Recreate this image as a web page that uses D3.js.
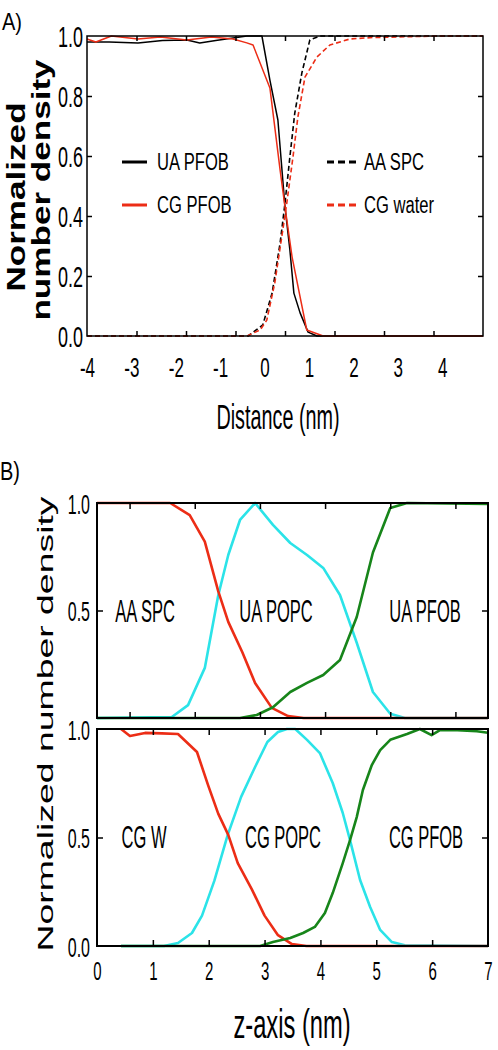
<!DOCTYPE html>
<html><head><meta charset="utf-8">
<script src="https://cdn.jsdelivr.net/npm/d3@7"></script>
<style>body{margin:0;background:#fff}svg{display:block}</style>
</head><body>
<svg id="c" width="498" height="1050"></svg>
<script>
// ---------- Panel A data (Distance nm, normalized density) ----------
const aTicksX = [-4, -3, -2, -1, 0, 1, 2, 3, 4];
const aTicksY = [0, 0.2, 0.4, 0.6, 0.8, 1.0];
const uaPfobX = [-4, -3.5, -2.85, -2.3, -1.75, -1.46, -1.1, -0.71, -0.4, -0.06, 0.12, 0.30, 0.46, 0.57, 0.66, 0.80, 0.98, 1.18, 4.92];
const uaPfobY = [0.98, 0.98, 0.977, 0.985, 0.987, 0.977, 0.985, 0.993, 1.0, 1.0, 0.853, 0.72, 0.43, 0.287, 0.143, 0.077, 0.013, 0, 0];
const cgPfobX = [-4, -3.8, -3.45, -2.85, -2.35, -1.75, -1.2, -0.71, -0.4, -0.26, 0.12, 0.35, 0.46, 0.62, 0.95, 1.32, 4.92];
const cgPfobY = [0.99, 0.98, 1.0, 0.99, 0.997, 0.987, 0.997, 0.99, 0.977, 0.97, 0.827, 0.553, 0.43, 0.263, 0.02, 0, 0];
const aaSpcX = [-4, -0.37, -0.04, 0.17, 0.35, 0.46, 0.57, 0.68, 0.84, 1.02, 1.25, 4.92];
const aaSpcY = [0, 0, 0.037, 0.143, 0.31, 0.443, 0.597, 0.743, 0.877, 0.987, 1.0, 1.0];
const cgWaterX = [-4, -0.40, -0.1, 0.05, 0.23, 0.41, 0.50, 0.64, 0.75, 0.91, 1.18, 1.47, 1.92, 2.44, 3.95, 4.92];
const cgWaterY = [0, 0, 0.02, 0.053, 0.177, 0.353, 0.443, 0.597, 0.73, 0.863, 0.93, 0.97, 0.99, 0.995, 1.0, 1.0];

// ---------- Panel B data (z-axis nm) ----------
const bTicksX = [0, 1, 2, 3, 4, 5, 6, 7];
const bTicksYUpper = [0.5, 1.0];
const bTicksYLower = [0, 0.5, 1.0];
// upper: AA SPC / UA POPC / UA PFOB
const uSpcX = [0, 1.31, 1.66, 1.93, 2.17, 2.35, 2.60, 2.83, 3.13, 3.42, 3.7, 7];
const uSpcY = [1, 1, 0.944, 0.82, 0.59, 0.447, 0.307, 0.163, 0.047, 0.009, 0, 0];
const uPopcX = [0, 1.34, 1.63, 1.93, 2.17, 2.35, 2.56, 2.83, 3.15, 3.46, 3.76, 4.05, 4.35, 4.65, 4.94, 5.25, 5.51, 7];
const uPopcY = [0, 0.005, 0.06, 0.233, 0.57, 0.758, 0.921, 1.0, 0.898, 0.814, 0.758, 0.698, 0.572, 0.35, 0.121, 0.02, 0, 0];
const uPfobX = [0, 2.56, 2.86, 3.15, 3.46, 3.76, 4.05, 4.35, 4.65, 4.94, 5.25, 5.55, 7];
const uPfobY = [0, 0, 0.014, 0.05, 0.121, 0.163, 0.2, 0.27, 0.47, 0.77, 0.977, 1.0, 0.995];
// lower: CG W / CG POPC / CG PFOB
const lWX = [0.43, 0.59, 0.86, 1.16, 1.45, 1.79, 1.99, 2.17, 2.35, 2.52, 2.77, 3.0, 3.24, 3.49, 3.75, 7];
const lWY = [1.0, 0.968, 0.982, 0.98, 0.977, 0.894, 0.74, 0.61, 0.512, 0.382, 0.262, 0.14, 0.05, 0.009, 0, 0];
const lPopcX = [0.43, 1.2, 1.45, 1.70, 1.88, 2.1, 2.34, 2.58, 2.83, 3.05, 3.24, 3.4, 3.55, 3.76, 3.99, 4.22, 4.4, 4.53, 4.71, 4.89, 5.07, 5.28, 5.51, 7];
const lPopcY = [0, 0, 0.014, 0.06, 0.14, 0.3, 0.512, 0.687, 0.825, 0.94, 0.986, 1.0, 1.0, 0.95, 0.889, 0.751, 0.613, 0.488, 0.304, 0.18, 0.074, 0.018, 0.003, 0];
const lPfobX = [0.43, 2.92, 3.15, 3.46, 3.69, 3.9, 4.08, 4.22, 4.4, 4.53, 4.65, 4.76, 4.92, 5.07, 5.25, 5.55, 5.78, 5.99, 6.14, 6.45, 6.8, 7];
const lPfobY = [0, 0, 0.018, 0.037, 0.06, 0.088, 0.152, 0.244, 0.382, 0.488, 0.594, 0.719, 0.834, 0.903, 0.95, 0.977, 1.0, 0.972, 0.995, 0.995, 0.99, 0.983];

const FONT = "'Liberation Sans', Arial, Helvetica, sans-serif";
const RED = "#ec2d16", CYAN = "#2be3e8", GREEN = "#17851a";
const svg = d3.select("#c");

function stext(x, y, str, o) {
  return svg.append("text")
    .attr("transform", `translate(${x},${y}) scale(1,${o.k})` + (o.rot ? " rotate(-90)" : ""))
    .attr("font-family", FONT).attr("font-size", o.size)
    .attr("text-anchor", o.anchor || "start")
    .attr("font-weight", o.weight || "normal").attr("fill", "#000").text(str);
}
function ticks(axis, tx, ty) {
  svg.append("g").attr("transform", `translate(${tx},${ty})`)
    .call(axis.tickFormat(""))
    .call(g => g.select(".domain").remove())
    .call(g => g.selectAll(".tick line").attr("stroke", "#000").attr("stroke-width", 1.5));
}
function curve(xs, ys, xS, yS, color, w, dash) {
  const line = d3.line().x(d => xS(d[0])).y(d => yS(d[1]));
  const p = svg.append("path").datum(d3.zip(xs, ys)).attr("d", line)
    .attr("fill", "none").attr("stroke", color).attr("stroke-width", w)
    .attr("stroke-linejoin", "round");
  if (dash) p.attr("stroke-dasharray", dash);
}
function yLabels(scale, vals, x, pad, size, k) {
  svg.append("g").attr("transform", `translate(${x},0)`)
    .call(d3.axisLeft(scale).tickValues(vals).tickSize(0).tickPadding(pad).tickFormat(d3.format(".1f")))
    .call(g => g.select(".domain").remove())
    .call(g => g.selectAll(".tick text").attr("font-family", FONT).attr("font-size", size)
      .attr("fill", "#000").attr("dy", "0.358em").attr("transform", `scale(1,${k})`));
}
function xLabels(scale, vals, y, off, size, k) {
  svg.append("g").attr("transform", `translate(0,${y})`)
    .call(d3.axisBottom(scale).tickValues(vals).tickSize(0).tickFormat(d => String(d)))
    .call(g => g.select(".domain").remove())
    .call(g => g.selectAll(".tick text").attr("font-family", FONT).attr("font-size", size)
      .attr("fill", "#000").attr("y", off / k).attr("dy", 0).attr("transform", `scale(1,${k})`));
}
function frame(xS, yS, w) {
  const [x0, x1] = xS.range(), [y0, y1] = yS.range();
  svg.append("rect").attr("x", x0).attr("y", y1).attr("width", x1 - x0).attr("height", y0 - y1)
    .attr("fill", "none").attr("stroke", "#000").attr("stroke-width", w);
}

// ================= Panel A =================
const xA = d3.scaleLinear().domain([-4, 4.92]).range([87, 483]);
const yA = d3.scaleLinear().domain([0, 1]).range([336, 36]);
const dA = xA.domain();
const aMarks = d3.range(1, 8).map(i => dA[0] + i * (dA[1] - dA[0]) / 8);

curve(uaPfobX, uaPfobY, xA, yA, "#000", 1.5);
curve(aaSpcX, aaSpcY, xA, yA, "#000", 1.6, "5,3");
curve(cgPfobX, cgPfobY, xA, yA, RED, 1.5);
curve(cgWaterX, cgWaterY, xA, yA, RED, 1.6, "5,3");
frame(xA, yA, 1.5);
ticks(d3.axisBottom(xA).tickValues(aMarks).tickSize(-5), 0, yA(0));
ticks(d3.axisTop(xA).tickValues(aMarks).tickSize(-5), 0, yA(1));
ticks(d3.axisLeft(yA).tickValues([0.2, 0.4, 0.6, 0.8]).tickSize(-5), xA(dA[0]), 0);
ticks(d3.axisRight(yA).tickValues([0.2, 0.4, 0.6, 0.8]).tickSize(-5), xA(dA[1]), 0);
yLabels(yA, aTicksY, xA(dA[0]), 4, 18, 1.6);
xLabels(xA, aTicksX, yA(0), 41, 17, 1.65);

stext(2, 30, "A)", {size: 20, k: 1.2});
stext(25, 197, "Normalized", {size: 26, k: 1.35, rot: true, anchor: "middle", weight: "bold"});
stext(50, 190, "number density", {size: 26, k: 1.35, rot: true, anchor: "middle", weight: "bold"});
stext(278, 429, "Distance (nm)", {size: 19.8, k: 1.77, anchor: "middle"});

// legend
svg.append("line").attr("x1", 122).attr("x2", 147).attr("y1", 162).attr("y2", 162).attr("stroke", "#000").attr("stroke-width", 3);
svg.append("line").attr("x1", 122).attr("x2", 147).attr("y1", 205).attr("y2", 205).attr("stroke", RED).attr("stroke-width", 3);
svg.append("line").attr("x1", 327).attr("x2", 357).attr("y1", 162).attr("y2", 162).attr("stroke", "#000").attr("stroke-width", 3).attr("stroke-dasharray", "7,4");
svg.append("line").attr("x1", 327).attr("x2", 357).attr("y1", 205).attr("y2", 205).attr("stroke", RED).attr("stroke-width", 3).attr("stroke-dasharray", "7,4");
stext(157, 170, "UA PFOB", {size: 16.6, k: 1.45});
stext(157, 213, "CG PFOB", {size: 16.6, k: 1.45});
stext(364, 170, "AA SPC", {size: 16.6, k: 1.45});
stext(364, 213, "CG water", {size: 16.6, k: 1.45});

// ================= Panel B =================
const xB = d3.scaleLinear().domain([0, 7]).range([97, 488]);
const yB1 = d3.scaleLinear().domain([0, 1]).range([718, 503]);
const yB2 = d3.scaleLinear().domain([0, 1]).range([946, 729]);
const upMarks = d3.range(6).map(i => (i + 0.5) * 7 / 6);

curve(uPopcX, uPopcY, xB, yB1, CYAN, 2.6);
curve(uSpcX, uSpcY, xB, yB1, RED, 2.6);
curve(uPfobX, uPfobY, xB, yB1, GREEN, 2.6);
curve(lPopcX, lPopcY, xB, yB2, CYAN, 2.6);
curve(lWX, lWY, xB, yB2, RED, 2.6);
curve(lPfobX, lPfobY, xB, yB2, GREEN, 2.6);
frame(xB, yB1, 2);
frame(xB, yB2, 2);

ticks(d3.axisTop(xB).tickValues(upMarks).tickSize(-6), 0, yB1(1));
ticks(d3.axisBottom(xB).tickValues(upMarks).tickSize(-6), 0, yB1(0));
ticks(d3.axisLeft(yB1).tickValues([0.5]).tickSize(-6), xB(0), 0);
ticks(d3.axisRight(yB1).tickValues([0.5]).tickSize(-6), xB(7), 0);
ticks(d3.axisTop(xB).tickValues(bTicksX.slice(1, 7)).tickSize(-6), 0, yB2(1));
ticks(d3.axisBottom(xB).tickValues(bTicksX.slice(1, 7)).tickSize(-6), 0, yB2(0));
ticks(d3.axisLeft(yB2).tickValues([0.5]).tickSize(-6), xB(0), 0);
ticks(d3.axisRight(yB2).tickValues([0.5]).tickSize(-6), xB(7), 0);

yLabels(yB1, bTicksYUpper, xB(0), 7, 16, 1.77);
yLabels(yB2, bTicksYLower, xB(0), 7, 16, 1.77);
xLabels(xB, bTicksX, yB2(0), 34, 15, 1.67);

stext(0, 480, "B)", {size: 20, k: 1.25});
stext(53, 724, "Normalized number density", {size: 22, k: 1.7, rot: true, anchor: "middle"});
stext(292, 1038, "z-axis (nm)", {size: 23.7, k: 1.73, anchor: "middle"});

stext(145, 622, "AA SPC", {size: 16.5, k: 1.85, anchor: "middle"});
stext(276, 622, "UA POPC", {size: 16.5, k: 1.85, anchor: "middle"});
stext(425, 622, "UA PFOB", {size: 16.5, k: 1.85, anchor: "middle"});
stext(144, 848, "CG W", {size: 16.5, k: 1.85, anchor: "middle"});
stext(283, 848, "CG POPC", {size: 16.5, k: 1.85, anchor: "middle"});
stext(426, 848, "CG PFOB", {size: 16.5, k: 1.85, anchor: "middle"});
</script>
</body></html>
